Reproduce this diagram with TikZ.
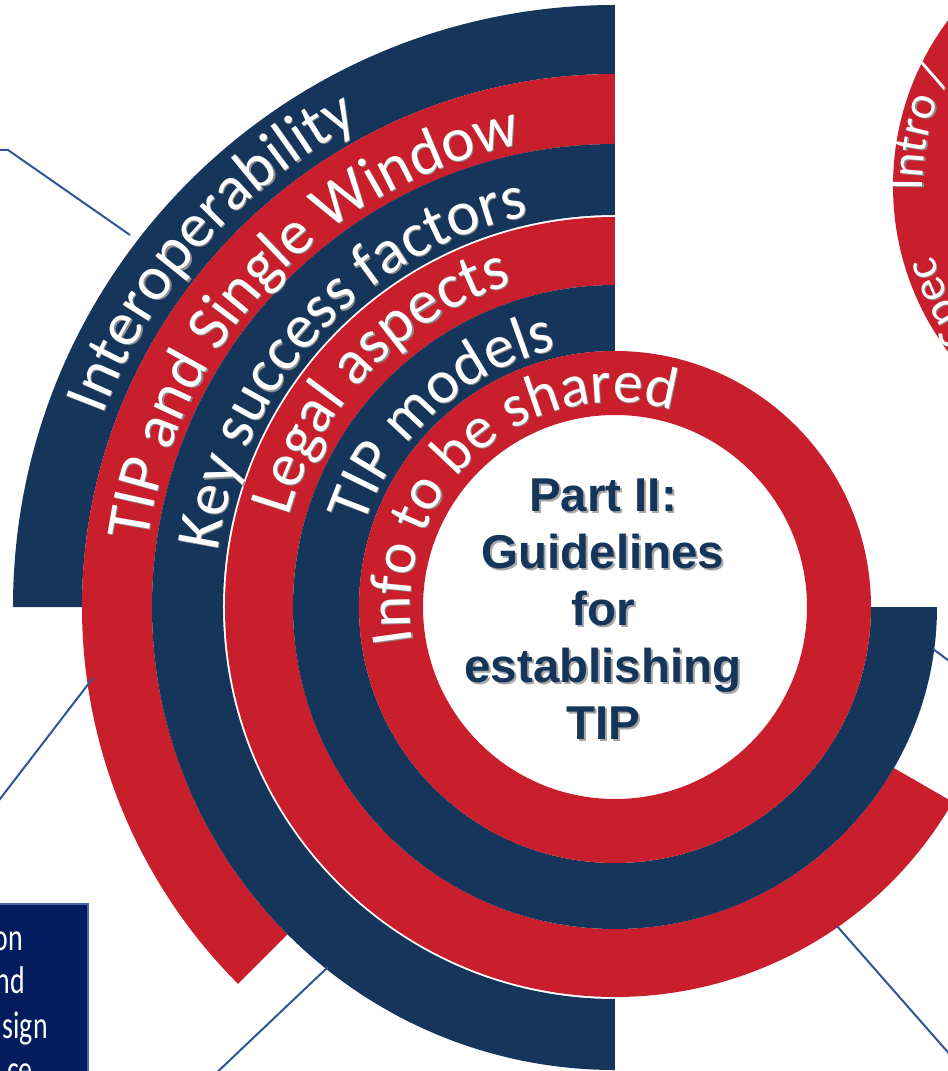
\documentclass[tikz,border=0pt]{standalone}
\usepackage{fontspec}
\usetikzlibrary{decorations.text}
\newfontfamily\carlito{Carlito}
\newfontfamily\boxfont{Carlito}[FakeStretch=0.72]
\newfontfamily\partfont{Liberation Sans}
\definecolor{tipnavy}{HTML}{15355A}
\definecolor{tipred}{HTML}{C91F2D}
\definecolor{boxblue}{HTML}{021C5E}
\definecolor{boxedge}{HTML}{4B69A8}
\definecolor{leader}{HTML}{2F5597}
\definecolor{partshade}{HTML}{A6A6A6}
\newcommand{\ringband}[5]{\fill[#1] (#4:#3) arc[start angle=#4, end angle=#5, radius=#3] -- (#5:#2) arc[start angle=#5, end angle=#4, radius=#2] -- cycle;}
\newcommand{\ringtext}[5]{%
\path[shift={(1.2,-1.2)}, decorate, decoration={text along path, text={|\carlito\fontsize{#1}{#1}\selectfont\color{black!45}|#5}}] (#3:#2) arc[start angle=#3, end angle=#4, radius=#2];
\path[decorate, decoration={text along path, text={|\carlito\fontsize{#1}{#1}\selectfont\color{white}|#5}}] (#3:#2) arc[start angle=#3, end angle=#4, radius=#2];}
\tikzset{
  parttext/.style={align=center, inner sep=0pt, text=tipnavy, font=\partfont\bfseries\fontsize{35.6}{42.75}\selectfont},
  boxtext/.style={anchor=base east, inner sep=0pt, text=white, font=\boxfont\fontsize{29}{29}\selectfont},
  leader line/.style={draw=leader, line width=1.5pt}
}

\begin{document}
\begin{tikzpicture}[x=0.75pt, y=0.75pt]
\useasboundingbox (-615,-464) rectangle (333,607);
\clip (-615,-464) rectangle (333,607);

\ringband{tipnavy}{533}{602}{90}{180}
\ringband{tipred}{463}{533}{90}{225}
\ringband{tipnavy}{392}{463}{90}{270}
\ringband{tipred}{322}{390}{90}{330}
\ringband{tipnavy}{256}{322}{90}{360}
\fill[tipred, even odd rule] (0,0) circle[radius=256] (0,0) circle[radius=192];

\begin{scope}[shift={(555,421)}]
\fill[tipred] (0,0) circle[radius=277];
\ringtext{35}{247}{181}{120}{Intro /}
\ringtext{35}{247}{217}{150}{Spec}
\end{scope}

\fill[boxblue, draw=boxedge, line width=1.5pt] (-640,-490) rectangle (-527,-297);
\node[boxtext] (11) at (-592,-343) {on};
\node[boxtext] (12) at (-590,-386) {nd};
\node[boxtext] (13) at (-567,-431) {sign};
\node[boxtext] (14) at (-582,-475) {ce};

\coordinate (1) at (-625,457);
\coordinate (2) at (-607,457);
\coordinate (3) at (-485,372);
\coordinate (4) at (-522,-71);
\coordinate (5) at (-625,-205);
\coordinate (6) at (-287,-360);
\coordinate (7) at (-405,-472);
\coordinate (8) at (222,-319);
\coordinate (9) at (345,-459);
\coordinate (10) at (318,-42);
\coordinate (10b) at (345,-62);
\draw[leader line] (1) -- (2) -- (3);
\draw[leader line] (4) -- (5);
\draw[leader line] (6) -- (7);
\draw[leader line] (8) -- (9);
\draw[leader line] (10) -- (10b);

\ringtext{47}{547}{159.5}{90}{Interoperability}
\ringtext{47}{472}{172}{80}{TIP and Single Window}
\ringtext{47}{401}{172}{80}{Key success factors}
\ringtext{47}{339}{164.5}{80}{Legal aspects}
\ringtext{46}{264}{162}{80}{TIP models}
\ringtext{45}{205}{190}{40}{Info to be shared}

\node[parttext, text=partshade] (0s) at (-10,-4) {Part II:\\Guidelines\\for\\establishing\\TIP};
\node[parttext] (0) at (-12,-2) {Part II:\\Guidelines\\for\\establishing\\TIP};
\end{tikzpicture}
\end{document}
